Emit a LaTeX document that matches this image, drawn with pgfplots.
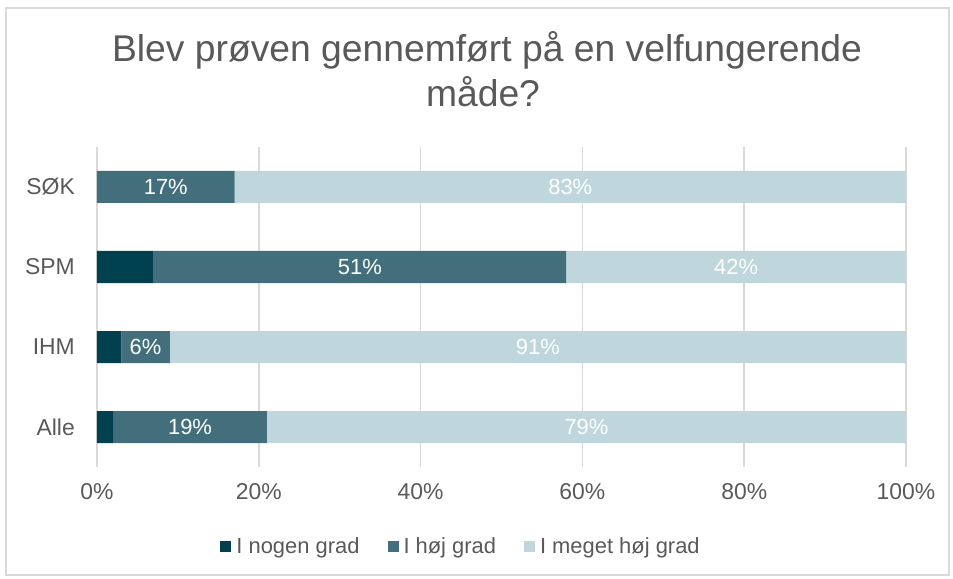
\documentclass[border=0pt]{standalone}
\usepackage{pgfplots}
\pgfplotsset{compat=1.18}
\usepackage{pgfplotstable}
\usepackage{fontspec}
\setmainfont{Liberation Sans}
\definecolor{cdark}{HTML}{00404F}
\definecolor{cmid}{HTML}{426F7B}
\definecolor{clight}{HTML}{BFD6DD}
\definecolor{txt}{HTML}{595959}
\definecolor{gridc}{HTML}{D9D9D9}
\pgfplotstableread{
y nogen hoj meget
0 2 19 79
1 3 6 91
2 7 51 42
3 0 17 83
}\data
% label positions (segment centres) and label values
\pgfplotstableread{
pos y lab
8.5 3 17
58.5 3 83
32.5 2 51
79 2 42
6 1 6
54.5 1 91
11.5 0 19
60.5 0 79
}\labels
\begin{document}
\begin{tikzpicture}[x=1bp,y=1bp]
\useasboundingbox (-97bp,-112bp) rectangle (856bp,467bp);
\draw[gridc, line width=1.2bp] (-91bp,-108bp) rectangle (852bp,459bp);
\node[anchor=base, text=txt, font=\fontsize{37.4}{40}\selectfont] at (390bp,405bp) {Blev prøven gennemført på en velfungerende};
\node[anchor=base, text=txt, font=\fontsize{37.4}{40}\selectfont] at (386bp,360bp) {måde?};
\begin{axis}[
  at={(0,0)}, anchor=south west,
  scale only axis, width=809bp, height=320bp,
  xbar stacked, bar width=32bp,
  xmin=0, xmax=100, ymin=-0.5, ymax=3.5,
  xtick={0,20,40,60,80,100},
  xticklabels={0\%,20\%,40\%,60\%,80\%,100\%},
  ytick={0,1,2,3},
  yticklabels={Alle,IHM,SPM,SØK},
  xmajorgrids, major grid style={gridc, line width=1.5bp},
  axis line style={draw=none},
  tick style={draw=none},
  tick label style={text=txt, font=\fontsize{23}{26}\selectfont},
  yticklabel style={inner sep=0pt, xshift=-22bp},
  xticklabel style={inner sep=0pt, yshift=-16bp},
  legend columns=3,
  legend style={draw=none, at={(0.45,-0.247)}, anchor=center,
    font=\fontsize{22}{24}\selectfont, text=txt,
    /tikz/every odd column/.append style={column sep=3bp},
    /tikz/every even column/.append style={column sep=26bp}},
  legend image code/.code={\fill[#1] (0bp,-5.5bp) rectangle (11bp,5.5bp);},
]
\addplot[fill=cdark, draw=none] table[x=nogen, y=y] {\data};
\addlegendentry{I nogen grad}
\addplot[fill=cmid, draw=none] table[x=hoj, y=y] {\data};
\addlegendentry{I høj grad}
\addplot[fill=clight, draw=none] table[x=meget, y=y] {\data};
\addlegendentry{I meget høj grad}
\end{axis}
\begin{axis}[
  at={(0,0)}, anchor=south west,
  scale only axis, width=809bp, height=320bp,
  xmin=0, xmax=100, ymin=-0.5, ymax=3.5,
  hide axis,
]
\addplot[only marks, mark=none, point meta=explicit symbolic,
  nodes near coords={\pgfplotspointmeta\%},
  every node near coord/.append style={anchor=center, text=white,
    font=\fontsize{22}{24}\selectfont}] table[x=pos, y=y, meta=lab] {\labels};
\end{axis}
\end{tikzpicture}
\end{document}
